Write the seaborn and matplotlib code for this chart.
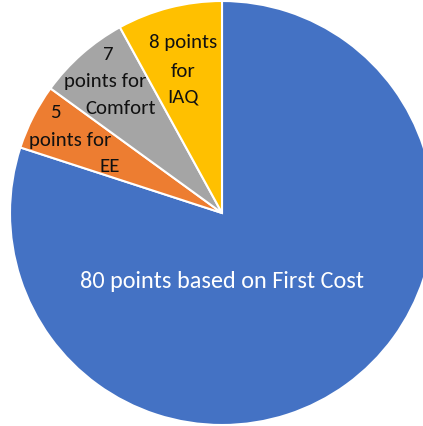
import matplotlib
matplotlib.use("Agg")
import matplotlib.pyplot as plt
import seaborn as sns

# point split of the scoring scheme (clockwise from the top)
categories = ["First Cost", "EE", "Comfort", "IAQ"]
points = [80, 5, 7, 8]
colors = ["#4472C4", "#ED7D31", "#A5A5A5", "#FFC000"]

# label text, one entry per line
label_lines = ["80 points based on First Cost",
               "8 points", "for", "IAQ",
               "7", "points for", "Comfort",
               "5", "points for", "EE"]

sns.set_theme(style="white")

fig = plt.figure(figsize=(4.23, 4.27), dpi=100)
# pie is slightly larger than the canvas, like the cropped screenshot
cx, cy, r = 222, 214, 212
ax = fig.add_axes([(cx - r) / 423, (427 - cy - r) / 427, 2 * r / 423, 2 * r / 427])
ax.pie(points, colors=colors, startangle=90, counterclock=False,
       wedgeprops=dict(edgecolor="white", linewidth=1.5))
ax.set_xlim(-1, 1)
ax.set_ylim(-1, 1)
ax.set_aspect("equal")
ax.axis("off")

# line positions in pie coordinates
line_xy = [(0, -0.32),
           (-0.184, 0.807), (-0.184, 0.670), (-0.184, 0.552),
           (-0.538, 0.750), (-0.552, 0.623), (-0.476, 0.500),
           (-0.788, 0.481), (-0.717, 0.349), (-0.528, 0.226)]

for i, (txt, (x, y)) in enumerate(zip(label_lines, line_xy)):
    if i == 0:
        ax.text(x, y, txt, ha="center", va="center", color="white",
                fontsize=17.5, family=["Carlito", "DejaVu Sans"])
    else:
        ax.text(x, y, txt, ha="center", va="center", color="#111111",
                fontsize=15, family=["Carlito", "DejaVu Sans"])

fig.savefig("out.png", dpi=100)
